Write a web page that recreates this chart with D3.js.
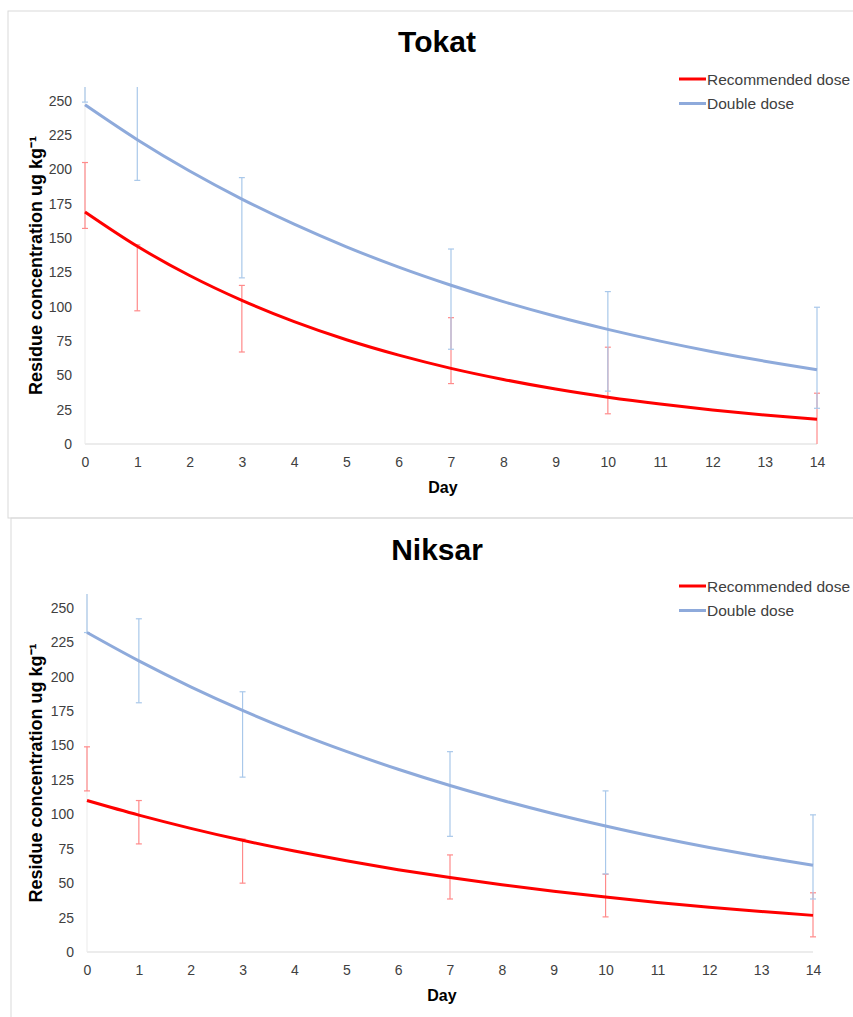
<!DOCTYPE html>
<html>
<head>
<meta charset="utf-8">
<script src="https://cdn.jsdelivr.net/npm/d3@7"></script>
<style>
  body { margin: 0; background: #fff; }
  text { font-family: "Liberation Sans", Arial, sans-serif; }
</style>
</head>
<body>
<svg id="chart" width="853" height="1017"></svg>
<script>
// ---- Data ----
const days = [0,1,2,3,4,5,6,7,8,9,10,11,12,13,14];
const sampleDays = [0,1,3,7,10,14];
const yTicks = [0,25,50,75,100,125,150,175,200,225,250];
const seriesNames = ["Recommended dose", "Double dose"];

// Tokat fitted curves
const tokatRec = [169.0,144.0,122.7,104.6,89.1,75.9,64.7,55.1,47.0,40.0,34.1,29.1,24.8,21.1,18.0];
const tokatDbl = [247.0,221.6,198.8,178.4,160.1,143.6,128.8,115.6,103.7,93.0,83.5,74.9,67.2,60.3,54.1];
// Tokat error bars (low, high) at sampleDays
const tokatRecLow  = [157, 97, 67, 44, 22, -5];
const tokatRecHigh = [205,145,115.5,92,70.5,37];
const tokatDblLow  = [249,192,121,69,38.5,26];
const tokatDblHigh = [300,300,194,142,111,99.6];

// Niksar fitted curves
const niksarRec = [110.0,99.4,89.8,81.1,73.3,66.2,59.8,54.1,48.8,44.1,39.9,36.0,32.5,29.4,26.6];
const niksarDbl = [232.0,211.4,192.6,175.5,159.9,145.7,132.7,120.9,110.2,100.4,91.5,83.3,75.9,69.2,63.0];
const niksarRecLow  = [117,78.5,50,38.5,25.5,11];
const niksarRecHigh = [149,110,82,70.5,56.5,43];
const niksarDblLow  = [232,181,127,84,56.7,38.5];
const niksarDblHigh = [300,242,189,145.5,117,99.6];

const colors = ["#ff0000", "#8eaadb"];
const errColors = ["#ff8a8a", "#a9c8ea"];

const svg = d3.select("#chart");

function drawPanel(cfg) {
  const g = svg.append("g");
  g.append("rect").attr("x", cfg.frame[0]).attr("y", cfg.frame[1])
    .attr("width", cfg.frame[2]).attr("height", cfg.frame[3])
    .attr("fill", "none").attr("stroke", "#d9d9d9").attr("stroke-width", 1);

  const x = d3.scaleLinear().domain([0, 14]).range([cfg.left, cfg.right]);
  const y = d3.scaleLinear().domain([0, 260]).range([cfg.bottom, cfg.top]);

  const clipId = "clip" + cfg.id;
  g.append("clipPath").attr("id", clipId).append("rect")
    .attr("x", cfg.left - 10).attr("y", cfg.top).attr("width", cfg.right - cfg.left + 20)
    .attr("height", cfg.bottom - cfg.top);

  g.append("line").attr("x1", cfg.left).attr("x2", cfg.right).attr("y1", cfg.bottom).attr("y2", cfg.bottom)
    .attr("stroke", "#e6e6e6").attr("stroke-width", 1.5);
  g.append("line").attr("x1", cfg.left).attr("x2", cfg.left).attr("y1", cfg.top).attr("y2", cfg.bottom)
    .attr("stroke", "#ebebeb").attr("stroke-width", 1);

  const yAxis = d3.axisLeft(y).tickValues(yTicks).tickSize(0).tickPadding(13);
  const ya = g.append("g").attr("transform", `translate(${cfg.left},0)`).call(yAxis);
  ya.select(".domain").remove();
  ya.selectAll("text").attr("font-size", 14).attr("fill", "#404040")
    .style("font-family", "Liberation Sans, Arial, sans-serif");

  const xAxis = d3.axisBottom(x).tickValues(days).tickSize(0).tickPadding(13);
  const xa = g.append("g").attr("transform", `translate(0,${cfg.bottom})`).call(xAxis);
  xa.select(".domain").remove();
  xa.selectAll("text").attr("font-size", 14).attr("fill", "#404040")
    .style("font-family", "Liberation Sans, Arial, sans-serif");

  g.append("text").attr("x", cfg.titleX).attr("y", cfg.titleY)
    .attr("text-anchor", "middle").attr("font-size", 30).attr("font-weight", "bold")
    .attr("fill", "#000").text(cfg.title);
  g.append("text").attr("x", (cfg.left + cfg.right) / 2 - 8).attr("y", cfg.bottom + 49)
    .attr("text-anchor", "middle").attr("font-size", 16).attr("font-weight", "bold")
    .attr("fill", "#000").text("Day");
  g.append("text")
    .attr("transform", `translate(42,${(cfg.top + cfg.bottom) / 2}) rotate(-90)`)
    .attr("text-anchor", "middle").attr("font-size", 18).attr("font-weight", "bold")
    .attr("fill", "#000")
    .text("Residue concentration ug kg\u207B\u00B9");

  const plot = g.append("g").attr("clip-path", `url(#${clipId})`);

  const errSets = [[cfg.recLow, cfg.recHigh], [cfg.dblLow, cfg.dblHigh]];
  errSets.forEach((s, si) => {
    sampleDays.forEach((d, i) => {
      const xx = x(d);
      plot.append("line").attr("x1", xx).attr("x2", xx)
        .attr("y1", y(s[0][i])).attr("y2", y(s[1][i]))
        .attr("stroke", errColors[si]).attr("stroke-width", 1.2);
      [s[0][i], s[1][i]].forEach(v => {
        plot.append("line").attr("x1", xx - 3).attr("x2", xx + 3)
          .attr("y1", y(v)).attr("y2", y(v))
          .attr("stroke", errColors[si]).attr("stroke-width", 1.2);
      });
    });
  });

  const line = d3.line().x((d, i) => x(days[i])).y(d => y(d)).curve(d3.curveCatmullRom);
  [cfg.rec, cfg.dbl].forEach((vals, si) => {
    plot.append("path").datum(vals).attr("d", line)
      .attr("fill", "none").attr("stroke", colors[si]).attr("stroke-width", 3);
  });

  seriesNames.forEach((name, i) => {
    const ly = cfg.legendY + i * 24.5;
    g.append("line").attr("x1", 679).attr("x2", 706).attr("y1", ly).attr("y2", ly)
      .attr("stroke", colors[i]).attr("stroke-width", 3);
    g.append("text").attr("x", 707).attr("y", ly + 5.5).attr("font-size", 15.5)
      .attr("fill", "#404040").text(name);
  });
}

drawPanel({
  id: "tokat", title: "Tokat", frame: [8, 11, 860, 507],
  left: 85, right: 817, top: 87, bottom: 444, titleX: 437, titleY: 52, legendY: 79,
  rec: tokatRec, dbl: tokatDbl,
  recLow: tokatRecLow, recHigh: tokatRecHigh, dblLow: tokatDblLow, dblHigh: tokatDblHigh
});
drawPanel({
  id: "niksar", title: "Niksar", frame: [11, 518, 860, 520],
  left: 87, right: 813, top: 594, bottom: 952, titleX: 437, titleY: 560, legendY: 586,
  rec: niksarRec, dbl: niksarDbl,
  recLow: niksarRecLow, recHigh: niksarRecHigh, dblLow: niksarDblLow, dblHigh: niksarDblHigh
});
</script>
</body>
</html>
